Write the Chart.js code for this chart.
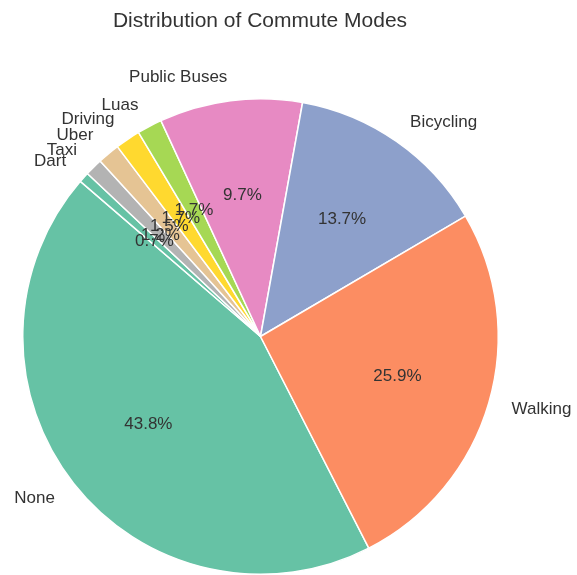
<!DOCTYPE html>
<html>
<head>
<meta charset="utf-8">
<script src="https://cdn.jsdelivr.net/npm/chart.js@4"></script>
<style>
  html, body { margin: 0; padding: 0; background: #ffffff; }
  #wrap { width: 577px; height: 575px; }
</style>
</head>
<body>
<div id="wrap"><canvas id="c" width="577" height="575"></canvas></div>
<script>
// Categories in clockwise drawing order (starting at the None/Walking boundary)
const categories = ["None", "Dart", "Taxi", "Uber", "Driving", "Luas", "Public Buses", "Bicycling", "Walking"];
const shares = [43.8, 0.7, 1.2, 1.5, 1.7, 1.7, 9.7, 13.7, 25.9];
const sliceColors = ["#66c2a5", "#66c2a5", "#b3b3b3", "#e5c494", "#ffd92f", "#a6d854", "#e78ac3", "#8da0cb", "#fc8d62"];
const chartTitle = "Distribution of Commute Modes";

const FONT = '"Liberation Sans", Arial, "DejaVu Sans", sans-serif';
const TEXT = '#333333';

const labelPlugin = {
  id: 'pieLabels',
  afterDraw(chart) {
    const ctx = chart.ctx;
    const meta = chart.getDatasetMeta(0);
    const data = chart.data.datasets[0].data;
    const total = data.reduce((a, b) => a + b, 0);
    ctx.save();
    meta.data.forEach((arc, i) => {
      const p = arc.getProps(['x', 'y', 'startAngle', 'endAngle', 'outerRadius'], true);
      const mid = (p.startAngle + p.endAngle) / 2;
      const cx = p.x, cy = p.y, r = p.outerRadius;
      // category label at 1.1 r
      const lx = cx + Math.cos(mid) * r * 1.1;
      const ly = cy + Math.sin(mid) * r * 1.1;
      ctx.font = '17px ' + FONT;
      ctx.fillStyle = TEXT;
      ctx.textBaseline = 'middle';
      ctx.textAlign = (lx - cx) >= 0 ? 'left' : 'right';
      ctx.fillText(chart.data.labels[i], lx, ly);
      // percentage at 0.6 r
      const px = cx + Math.cos(mid) * r * 0.6;
      const py = cy + Math.sin(mid) * r * 0.6;
      ctx.textAlign = 'center';
      ctx.fillText((data[i] / total * 100).toFixed(1) + '%', px, py);
    });
    // title
    ctx.font = '21px ' + FONT;
    ctx.fillStyle = TEXT;
    ctx.textAlign = 'center';
    ctx.textBaseline = 'middle';
    ctx.fillText(chartTitle, 260, 21);
    ctx.restore();
  }
};

new Chart(document.getElementById('c'), {
  type: 'pie',
  data: {
    labels: categories,
    datasets: [{
      data: shares,
      backgroundColor: sliceColors,
      borderColor: '#ffffff',
      borderWidth: 1.5
    }]
  },
  options: {
    responsive: false,
    animation: false,
    rotation: 152.9,
    layout: { padding: { left: 22, right: 78, top: 98, bottom: 0 } },
    plugins: {
      legend: { display: false },
      tooltip: { enabled: false },
      title: { display: false }
    }
  },
  plugins: [labelPlugin]
});
</script>
</body>
</html>
